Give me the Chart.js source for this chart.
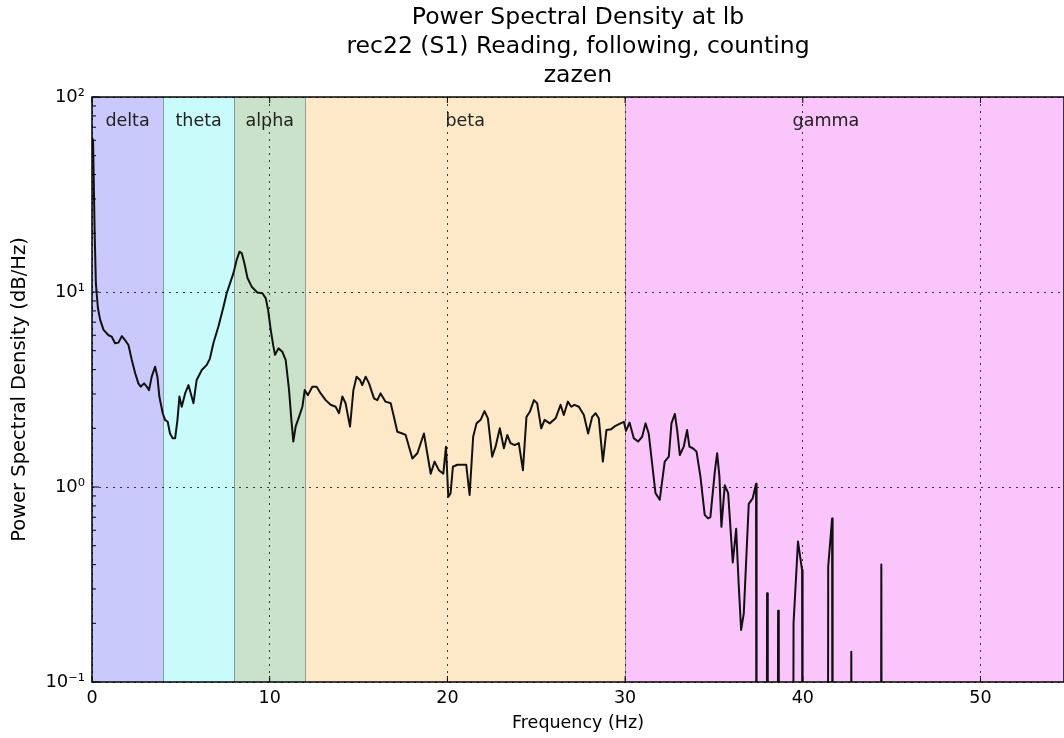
<!DOCTYPE html>
<html>
<head>
<meta charset="utf-8">
<script src="https://cdn.jsdelivr.net/npm/chart.js@4.4.0/dist/chart.umd.min.js"></script>
<style>
html, body { margin: 0; padding: 0; background: #fff; }
#wrap { width: 1064px; height: 738px; }
</style>
</head>
<body>
<div id="wrap"><canvas id="psdGraph"></canvas></div>
<script>
// frequency (Hz) and PSD values
let freqs = [0.00,0.06,0.15,0.22,0.33,0.46,0.65,0.93,1.11,1.30,1.49,1.68,1.86,2.05,2.24,2.43,2.61,2.74,2.93,3.08,
  3.21,3.36,3.55,3.68,3.79,3.98,4.11,4.26,4.39,4.54,4.68,4.81,4.92,5.05,5.24,5.43,5.56,5.71,5.89,6.18,
  6.46,6.64,6.83,7.11,7.40,7.58,7.77,7.96,8.14,8.30,8.43,8.58,8.75,9.00,9.31,9.59,9.78,9.91,10.06,10.21,
  10.30,10.49,10.71,10.90,11.09,11.22,11.33,11.46,11.65,11.84,11.97,12.15,12.40,12.64,12.87,13.15,13.43,13.71,13.90,14.09,
  14.27,14.52,14.71,14.89,15.08,15.21,15.40,15.59,15.87,16.06,16.24,16.52,16.81,16.99,17.18,17.46,17.65,18.03,18.31,18.68,
  19.06,19.28,19.52,19.77,19.92,20.05,20.18,20.31,20.56,21.06,21.25,21.45,21.64,21.87,22.09,22.28,22.52,22.71,22.95,23.18,
  23.37,23.55,23.78,24.02,24.25,24.45,24.64,24.87,25.05,25.28,25.47,25.76,26.09,26.37,26.55,26.78,26.97,27.15,27.40,27.68,
  27.92,28.15,28.34,28.52,28.75,28.95,29.22,29.46,29.74,29.93,30.05,30.25,30.49,30.73,30.96,31.15,31.33,31.52,31.71,31.95,
  32.12,32.23,32.46,32.61,32.80,32.93,33.08,33.30,33.49,33.62,33.81,34.02,34.24,34.48,34.67,34.80,35.05,35.18,35.31,35.42,
  35.61,35.80,36.06,36.25,36.39,36.53,36.68,36.96,37.18,37.37,37.40,37.95,37.99,38.03,38.57,38.61,38.65,39.43,39.48,39.73,
  39.96,39.99,41.40,41.43,41.65,41.68,42.69,42.73,42.77,44.38,44.42,44.46,54.70];
let psd = [62,60,20,11,8.3,7.2,6.4,6.0,5.9,5.46,5.5,5.94,5.67,5.35,4.48,3.83,3.40,3.27,3.40,3.27,
  3.14,3.68,4.14,3.68,2.91,2.39,2.21,2.16,1.88,1.78,1.78,2.21,2.91,2.58,3.02,3.33,3.02,2.69,3.54,3.98,
  4.23,4.57,5.46,6.64,8.41,9.85,11.1,12.5,14.6,16.1,15.8,14.0,11.8,10.6,9.93,9.85,9.28,8.09,6.38,5.25,
  4.76,5.14,4.94,4.48,3.14,2.21,1.71,2.04,2.29,2.58,3.14,2.96,3.27,3.27,3.02,2.79,2.64,2.58,2.39,2.91,
  2.69,2.04,3.14,3.68,3.54,3.33,3.68,3.40,2.85,2.79,3.02,2.74,2.69,2.29,1.92,1.88,1.85,1.40,1.49,1.88,
  1.17,1.35,1.22,1.17,1.61,0.89,0.93,1.27,1.30,1.30,0.91,1.81,2.12,2.21,2.45,2.25,1.43,1.61,2.00,1.58,
  1.85,1.68,1.64,1.68,1.22,2.29,2.43,2.79,2.69,2.00,2.21,2.12,2.25,2.64,2.34,2.74,2.58,2.64,2.58,2.34,
  1.88,2.29,2.39,2.25,1.35,1.96,1.98,2.06,2.12,2.16,1.94,2.14,1.78,1.71,1.81,2.12,1.88,1.32,0.93,0.86,
  1.13,1.35,1.43,2.12,2.37,1.96,1.46,1.61,1.96,1.61,1.58,1.52,1.13,0.72,0.69,0.70,1.20,1.49,1.13,0.625,
  1.02,0.93,0.41,0.61,0.32,0.185,0.225,0.82,0.875,1.04,0.001,0.001,0.285,0.001,0.001,0.232,0.001,0.001,0.2,0.525,
  0.375,0.001,0.001,0.39,0.69,0.001,0.001,0.143,0.001,0.001,0.40,0.001,0.001];

let bandNames = ['delta', 'theta', 'alpha', 'beta', 'gamma'];
let bandEdges = [0, 4, 8, 12, 30, 54.7];
let bandLabelAt = [2, 6, 10, 21, 41.3];

let xTicks = [0, 10, 20, 30, 40, 50];
let yTicks = [0.1, 1, 10, 100];
let yTickLabels = ['10\u207B\u00B9', '10\u2070', '10\u00B9', '10\u00B2'];

let titleLines = ['Power Spectral Density at lb', 'rec22 (S1) Reading, following, counting', 'zazen'];

let bandColors = ['#c9c9fb', '#c9fbfb', '#c9e2c9', '#fde9c8', '#fac5fa'];

Chart.defaults.font.family = "'DejaVu Sans', sans-serif";
Chart.defaults.color = '#000';

// coloured frequency bands behind everything
let bandPlugin = {
  id: 'bands',
  beforeDraw(chart) {
    let ctx = chart.ctx;
    let a = chart.chartArea;
    let x = chart.scales.x;
    ctx.save();
    for (let i = 0; i < bandNames.length; i++) {
      let x1 = x.getPixelForValue(bandEdges[i]);
      let x2 = x.getPixelForValue(bandEdges[i + 1]);
      ctx.fillStyle = bandColors[i];
      ctx.fillRect(x1, a.top, x2 - x1, a.bottom - a.top);
    }
    ctx.strokeStyle = 'rgba(70,90,100,0.55)';
    ctx.lineWidth = 1;
    ctx.beginPath();
    for (let i = 1; i < bandNames.length; i++) {
      let px = Math.round(x.getPixelForValue(bandEdges[i])) + 0.5;
      ctx.moveTo(px, a.top);
      ctx.lineTo(px, a.bottom);
    }
    ctx.stroke();
    ctx.fillStyle = '#222';
    ctx.font = "17.5px 'DejaVu Sans'";
    ctx.textAlign = 'center';
    ctx.textBaseline = 'middle';
    for (let i = 0; i < bandNames.length; i++) {
      ctx.fillText(bandNames[i], x.getPixelForValue(bandLabelAt[i]), a.top + 24);
    }
    ctx.restore();
  }
};

// black box with inward ticks, matplotlib style
let framePlugin = {
  id: 'frame',
  afterDraw(chart) {
    let ctx = chart.ctx;
    let a = chart.chartArea;
    let x = chart.scales.x;
    let y = chart.scales.y;
    ctx.save();
    ctx.strokeStyle = '#000';
    ctx.lineWidth = 1.5;
    ctx.strokeRect(a.left, a.top, a.right - a.left, a.bottom - a.top);
    ctx.lineWidth = 1;
    ctx.beginPath();
    xTicks.forEach(function(v) {
      let px = x.getPixelForValue(v);
      ctx.moveTo(px, a.bottom); ctx.lineTo(px, a.bottom - 6);
      ctx.moveTo(px, a.top); ctx.lineTo(px, a.top + 6);
    });
    for (let i = 0; i < yTicks.length; i++) {
      let py = y.getPixelForValue(yTicks[i]);
      ctx.moveTo(a.left, py); ctx.lineTo(a.left + 7, py);
      if (i < yTicks.length - 1) {
        for (let k = 2; k <= 9; k++) {
          let pm = y.getPixelForValue(yTicks[i] * k);
          ctx.moveTo(a.left, pm); ctx.lineTo(a.left + 4, pm);
        }
      }
    }
    ctx.stroke();
    ctx.restore();
  }
};

let points = freqs.map(function(f, i) { return { x: f, y: psd[i] }; });

let ctx1 = document.getElementById('psdGraph').getContext('2d');
let psdChart = new Chart(ctx1, {
  type: 'line',
  data: {
    datasets: [{
      data: points,
      borderColor: '#111',
      borderWidth: 2,
      borderJoinStyle: 'round',
      pointRadius: 0,
      tension: 0,
      fill: false
    }]
  },
  options: {
    responsive: true,
    maintainAspectRatio: false,
    animation: false,
    layout: { padding: 0 },
    plugins: {
      legend: { display: false },
      tooltip: { enabled: false },
      title: {
        display: true,
        text: titleLines,
        fullSize: false,
        color: '#000',
        font: { size: 23.5, weight: 'normal', lineHeight: 1.24 },
        padding: { top: 3, bottom: 6.6 }
      }
    },
    scales: {
      x: {
        type: 'linear',
        min: 0,
        max: bandEdges[bandEdges.length - 1],
        afterBuildTicks: function(s) { s.ticks = xTicks.map(function(v) { return { value: v }; }); },
        afterFit: function(s) { s.height = 56; },
        ticks: { font: { size: 17.5 }, padding: 6, maxRotation: 0, color: '#000' },
        grid: { color: 'rgba(0,0,0,0.75)', lineWidth: 1, drawTicks: false },
        border: { display: false, dash: [2, 5] },
        title: { display: true, text: 'Frequency (Hz)', font: { size: 17.5 }, padding: { top: 0, bottom: 4 } }
      },
      y: {
        type: 'logarithmic',
        min: 0.1,
        max: 100,
        afterBuildTicks: function(s) { s.ticks = yTicks.map(function(v) { return { value: v }; }); },
        afterFit: function(s) { s.width = 92; },
        ticks: {
          font: { size: 18 },
          padding: 7,
          color: '#000',
          callback: function(v, i) { return yTickLabels[i]; }
        },
        grid: { color: 'rgba(0,0,0,0.75)', lineWidth: 1, drawTicks: false },
        border: { display: false, dash: [2, 5] },
        title: { display: true, text: 'Power Spectral Density (dB/Hz)', font: { size: 19.5 }, padding: { top: 8 } }
      }
    }
  },
  plugins: [bandPlugin, framePlugin]
});
</script>
</body>
</html>
